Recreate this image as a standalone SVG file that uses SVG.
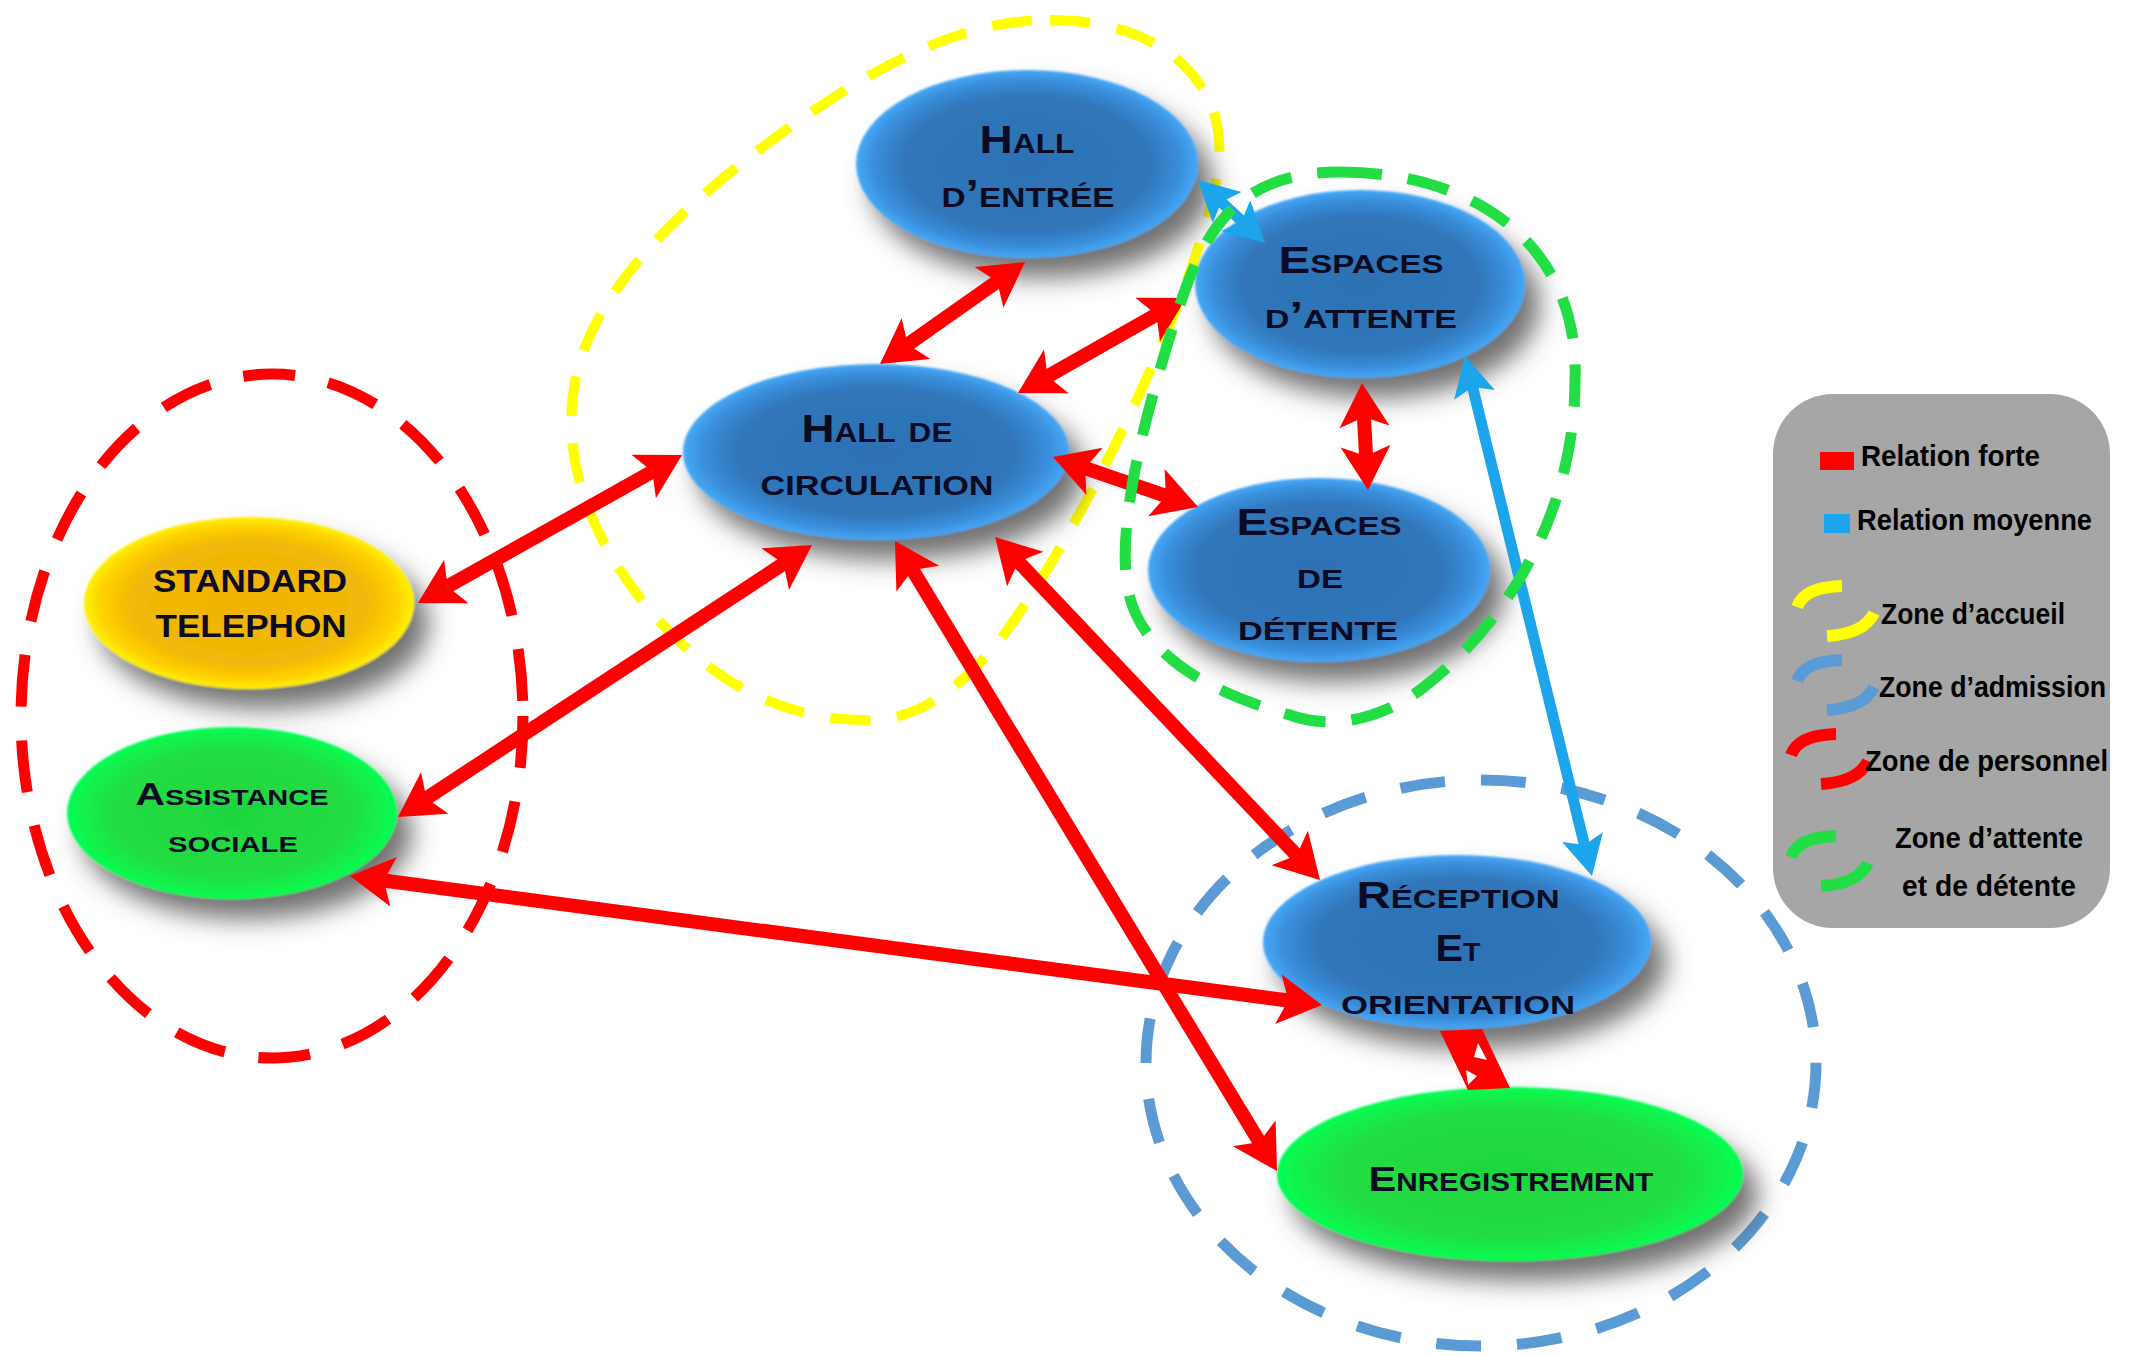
<svg xmlns="http://www.w3.org/2000/svg" width="2130" height="1356" viewBox="0 0 2130 1356">
<style>
.nt{font-family:"Liberation Sans",Arial,sans-serif;font-weight:bold;font-variant:small-caps;fill:#0b0b24;text-anchor:middle}
.st{font-family:"Liberation Sans",Arial,sans-serif;font-weight:bold;fill:#0b0b24;text-anchor:middle;font-size:32px}
.lg{font-family:"Liberation Sans",Arial,sans-serif;font-weight:bold;font-size:29px;fill:#000}
.zone{fill:none}
.red{stroke:#ff0000;stroke-width:14;fill:none}
.blu{stroke:#1ca5ea;stroke-width:11;fill:none}
</style>
<defs>
<radialGradient id="gBlue" cx="50%" cy="50%" r="50%">
<stop offset="0" stop-color="#2e72b4"/>
<stop offset="0.72" stop-color="#3076ba"/>
<stop offset="0.9" stop-color="#3a8fdc"/>
<stop offset="1" stop-color="#46a8f6"/>
</radialGradient>
<radialGradient id="gYel" cx="50%" cy="50%" r="50%">
<stop offset="0" stop-color="#f0b300"/>
<stop offset="0.72" stop-color="#f2b908"/>
<stop offset="0.9" stop-color="#ffd200"/>
<stop offset="1" stop-color="#fff200"/>
</radialGradient>
<radialGradient id="gGrn" cx="50%" cy="50%" r="50%">
<stop offset="0" stop-color="#1fd63e"/>
<stop offset="0.72" stop-color="#22dd44"/>
<stop offset="0.9" stop-color="#14f04a"/>
<stop offset="1" stop-color="#00ff55"/>
</radialGradient>
<filter id="sh" x="-20%" y="-30%" width="150%" height="180%">
<feGaussianBlur in="SourceAlpha" stdDeviation="13" result="b"/>
<feOffset in="b" dx="15" dy="20" result="o"/>
<feFlood flood-color="#4d4d4d" flood-opacity="0.8"/>
<feComposite in2="o" operator="in" result="s"/>
<feGaussianBlur in="SourceGraphic" stdDeviation="1.2" result="g"/>
<feMerge><feMergeNode in="s"/><feMergeNode in="g"/></feMerge>
</filter>
<marker id="ar" viewBox="-5 -30 60 60" refX="10" refY="0" markerWidth="60" markerHeight="60" markerUnits="userSpaceOnUse" orient="auto-start-reverse" overflow="visible">
<path d="M0,-25 L44,0 L0,25 L10,0 Z" fill="#ff0000"/>
</marker>
<marker id="ab" viewBox="-5 -25 50 50" refX="8" refY="0" markerWidth="50" markerHeight="50" markerUnits="userSpaceOnUse" orient="auto-start-reverse" overflow="visible">
<path d="M0,-21 L40,0 L0,21 L8,0 Z" fill="#1ca5ea"/>
</marker>
</defs>
<rect width="2130" height="1356" fill="#ffffff"/>

<g id="zone-accueil">
<path class="zone" stroke="#ffff00" stroke-width="10" stroke-dasharray="40 27" d="M1050,20 C1170,20 1230,90 1218,170 C1205,270 1090,520 1000,640 C950,700 910,722 860,720 C760,718 680,660 620,570 C575,500 560,430 580,360 C610,270 700,190 800,120 C880,65 960,20 1050,20 Z"/>
</g>
<g id="zone-personnel">
<ellipse class="zone" cx="272" cy="716" rx="251" ry="342" stroke="#ff0000" stroke-width="11" stroke-dasharray="52 34"/>
</g>
<g id="zone-admission">
<ellipse class="zone" cx="1481" cy="1063" rx="335" ry="283" stroke="#5b9bd5" stroke-width="11" stroke-dasharray="45 36"/>
</g>

<g id="node-hall-entree">
<ellipse cx="1027" cy="164" rx="171" ry="94" fill="url(#gBlue)" filter="url(#sh)"/>
<text class="nt" font-size="39" x="1027" y="153" textLength="95" lengthAdjust="spacingAndGlyphs">Hall</text>
<text class="nt" font-size="39" x="1028" y="207" textLength="173" lengthAdjust="spacingAndGlyphs">d’entrée</text>
</g>
<g id="node-espaces-attente">
<ellipse cx="1360" cy="284" rx="165" ry="94" fill="url(#gBlue)" filter="url(#sh)"/>
<text class="nt" font-size="36" x="1361" y="273" textLength="165" lengthAdjust="spacingAndGlyphs">Espaces</text>
<text class="nt" font-size="36" x="1361" y="328" textLength="192" lengthAdjust="spacingAndGlyphs">d’attente</text>
</g>
<g id="node-hall-circulation">
<ellipse cx="876" cy="452" rx="193" ry="88" fill="url(#gBlue)" filter="url(#sh)"/>
<text class="nt" font-size="39" x="877" y="442" textLength="151" lengthAdjust="spacingAndGlyphs">Hall de</text>
<text class="nt" font-size="39" x="877" y="495" textLength="233" lengthAdjust="spacingAndGlyphs">circulation</text>
</g>
<g id="node-espaces-detente">
<ellipse cx="1319" cy="570" rx="171" ry="92" fill="url(#gBlue)" filter="url(#sh)"/>
<text class="nt" font-size="36" x="1319" y="535" textLength="165" lengthAdjust="spacingAndGlyphs">Espaces</text>
<text class="nt" font-size="36" x="1320" y="588" textLength="46" lengthAdjust="spacingAndGlyphs">de</text>
<text class="nt" font-size="36" x="1318" y="640" textLength="160" lengthAdjust="spacingAndGlyphs">détente</text>
</g>
<g id="node-standard">
<ellipse cx="249" cy="603" rx="165" ry="86" fill="url(#gYel)" filter="url(#sh)"/>
<text class="st" x="250" y="592" textLength="194" lengthAdjust="spacingAndGlyphs">STANDARD</text>
<text class="st" x="251" y="637" textLength="191" lengthAdjust="spacingAndGlyphs">TELEPHON</text>
</g>
<g id="node-assistance">
<ellipse cx="232" cy="813" rx="165" ry="86" fill="url(#gGrn)" filter="url(#sh)"/>
<text class="nt" font-size="31" x="232" y="805" textLength="193" lengthAdjust="spacingAndGlyphs">Assistance</text>
<text class="nt" font-size="31" x="233" y="852" textLength="130" lengthAdjust="spacingAndGlyphs">sociale</text>
</g>
<g id="node-reception">
<ellipse cx="1457" cy="942" rx="194" ry="87" fill="url(#gBlue)" filter="url(#sh)"/>
<text class="nt" font-size="36" x="1458" y="908" textLength="203" lengthAdjust="spacingAndGlyphs">Réception</text>
<text class="nt" font-size="36" x="1458" y="961" textLength="45" lengthAdjust="spacingAndGlyphs">Et</text>
<text class="nt" font-size="36" x="1458" y="1014" textLength="234" lengthAdjust="spacingAndGlyphs">orientation</text>
</g>
<g id="node-enregistrement">
<ellipse cx="1510" cy="1174" rx="233" ry="87" fill="url(#gGrn)" filter="url(#sh)"/>
<text class="nt" font-size="35" x="1511" y="1191" textLength="285" lengthAdjust="spacingAndGlyphs">Enregistrement</text>
</g>

<g id="connectors">
<line class="red" x1="997.2" y1="281.6" x2="907.8" y2="344.4" marker-start="url(#ar)" marker-end="url(#ar)"/>
<line class="red" x1="1156.4" y1="314.7" x2="1047.6" y2="376.3" marker-start="url(#ar)" marker-end="url(#ar)"/>
<line class="red" x1="1085.1" y1="468.1" x2="1165.9" y2="495.9" marker-start="url(#ar)" marker-end="url(#ar)"/>
<line class="red" x1="1363.9" y1="416.9" x2="1366.1" y2="456.1" marker-start="url(#ar)" marker-end="url(#ar)"/>
<line class="red" x1="447.6" y1="586.4" x2="652.4" y2="471.6" marker-start="url(#ar)" marker-end="url(#ar)"/>
<line class="red" x1="426.4" y1="798.3" x2="783.6" y2="563.7" marker-start="url(#ar)" marker-end="url(#ar)"/>
<line class="red" x1="383.7" y1="880.5" x2="1288.3" y2="1000.5" marker-start="url(#ar)" marker-end="url(#ar)"/>
<line class="red" x1="912.6" y1="570.1" x2="1259.4" y2="1141.9" marker-start="url(#ar)" marker-end="url(#ar)"/>
<line class="red" x1="1018.4" y1="561.7" x2="1296.6" y2="855.3" marker-start="url(#ar)" marker-end="url(#ar)"/>
<polygon points="1440,1031 1482,1029 1510,1088 1468,1090" fill="#ff0000"/>
<polygon points="1478,1043 1487,1060 1474,1057" fill="#ffffff"/>
<polygon points="1466,1070 1477,1076 1468,1085" fill="#ffffff"/>
<line class="blu" x1="1221.3" y1="201.9" x2="1241.7" y2="221.1" marker-start="url(#ab)" marker-end="url(#ab)"/>
<line class="blu" x1="1472.6" y1="387.1" x2="1584.4" y2="844.9" marker-start="url(#ab)" marker-end="url(#ab)"/>
</g>

<g id="zone-attente-detente">
<path class="zone" stroke="#22dd44" stroke-width="11" stroke-dasharray="42 26" d="M1340,172 C1480,172 1580,250 1575,380 C1575,520 1500,630 1420,690 C1380,720 1330,730 1290,715 C1200,690 1140,650 1128,590 C1115,520 1150,400 1175,320 C1200,240 1230,172 1340,172 Z"/>
</g>

<g id="legend">
<rect x="1773" y="394" width="337" height="534" rx="60" fill="#a6a6a6"/>
<rect x="1820" y="452" width="34" height="18" fill="#ff0000"/>
<text class="lg" x="1861" y="466" textLength="179" lengthAdjust="spacingAndGlyphs">Relation forte</text>
<rect x="1824" y="514" width="26" height="19" fill="#1ca5ea"/>
<text class="lg" x="1857" y="530" textLength="235" lengthAdjust="spacingAndGlyphs">Relation moyenne</text>
<g fill="none" stroke-width="12">
<path d="M1842,586 Q1804,587 1797,607" stroke="#ffff00"/>
<path d="M1874,613 Q1864,634 1827,636" stroke="#ffff00"/>
<path d="M1842,660 Q1804,661 1797,681" stroke="#5b9bd5"/>
<path d="M1874,687 Q1864,708 1827,710" stroke="#5b9bd5"/>
<path d="M1836,734 Q1798,735 1791,755" stroke="#ff0000"/>
<path d="M1868,761 Q1858,782 1821,784" stroke="#ff0000"/>
<path d="M1836,836 Q1798,837 1791,857" stroke="#22dd44"/>
<path d="M1868,863 Q1858,884 1821,886" stroke="#22dd44"/>
</g>
<text class="lg" x="1881" y="624" textLength="184" lengthAdjust="spacingAndGlyphs">Zone d’accueil</text>
<text class="lg" x="1879" y="697" textLength="227" lengthAdjust="spacingAndGlyphs">Zone d’admission</text>
<text class="lg" x="1865" y="771" textLength="243" lengthAdjust="spacingAndGlyphs">Zone de personnel</text>
<text class="lg" x="1989" y="848" text-anchor="middle" textLength="188" lengthAdjust="spacingAndGlyphs">Zone d’attente</text>
<text class="lg" x="1989" y="896" text-anchor="middle" textLength="174" lengthAdjust="spacingAndGlyphs">et de détente</text>
</g>
</svg>
